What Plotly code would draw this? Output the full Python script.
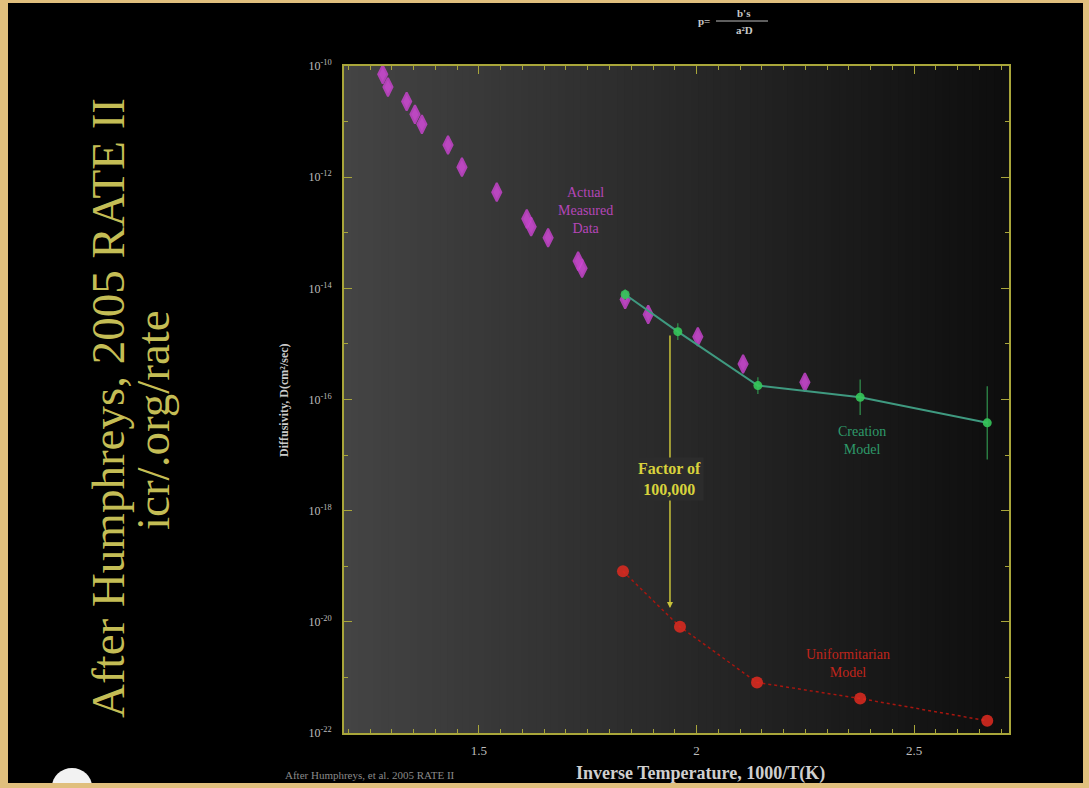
import plotly.graph_objects as go

# ---------------- data ----------------
meas_x = [1.279, 1.291, 1.334, 1.353, 1.369, 1.429, 1.461, 1.541, 1.610, 1.620,
          1.659, 1.728, 1.737, 1.836, 1.889, 2.003, 2.107, 2.249]
meas_logD = [-10.15, -10.38, -10.64, -10.87, -11.05, -11.42, -11.82, -12.27, -12.75, -12.89,
             -13.09, -13.51, -13.64, -14.20, -14.47, -14.87, -15.36, -15.69]

creation_x = [1.836, 1.957, 2.141, 2.376, 2.668]
creation_logD = [-14.11, -14.78, -15.75, -15.96, -16.42]
creation_err_dec = [0.10, 0.15, 0.15, 0.32, 0.66]

unif_x = [1.831, 1.962, 2.139, 2.376, 2.668]
unif_logD = [-19.09, -20.09, -21.09, -21.38, -21.78]

arrow_x = 1.939
arrow_top_logD = -14.82
arrow_bot_logD = -19.75

y_tick_exps = [-22, -20, -18, -16, -14, -12, -10]
y_minor_exps = [-21, -19, -17, -15, -13, -11]
x_tick_vals = [1.5, 2, 2.5]
x_tick_text = ["1.5", "2", "2.5"]

# ---------------- figure ----------------
meas_D = [10 ** v for v in meas_logD]
cre_D = [10 ** v for v in creation_logD]
cre_plus = [10 ** (v + e) - 10 ** v for v, e in zip(creation_logD, creation_err_dec)]
cre_minus = [10 ** v - 10 ** (v - e) for v, e in zip(creation_logD, creation_err_dec)]
uni_D = [10 ** v for v in unif_logD]

fig = go.Figure()

fig.add_trace(go.Scatter(
    x=unif_x, y=uni_D, mode="lines+markers",
    line=dict(color="#a8160f", width=1.5, dash="dot"),
    marker=dict(color="#e02a20", size=12, opacity=0.85),
    showlegend=False))

fig.add_trace(go.Scatter(
    x=meas_x, y=meas_D, mode="markers",
    marker=dict(color="#d24ad8", size=13, opacity=0.85, symbol="diamond-tall",
                line=dict(width=2, color="#c443ca")),
    showlegend=False))

fig.add_trace(go.Scatter(
    x=creation_x, y=cre_D, mode="lines+markers",
    line=dict(color="#3f9a80", width=2),
    marker=dict(color="#35c65a", size=9, opacity=0.9),
    error_y=dict(type="data", symmetric=False, array=cre_plus, arrayminus=cre_minus,
                 color="#2f8a4a", thickness=1.3, width=0),
    showlegend=False))

# gradient background of the plot area
shapes = []
N = 90
for i in range(N):
    t = i / (N - 1)
    c = int(68 - (68 - 14) * t)
    shapes.append(dict(type="rect", xref="x domain", yref="y domain",
                       x0=i / N, x1=(i + 1) / N + 0.002, y0=0, y1=1,
                       fillcolor=f"rgb({c},{c},{c})", line=dict(width=0), layer="below"))

# paper coordinate helpers (plot area: x 344..1009, y 66..733)
L, R, T, B = 344, 1009, 66, 733
def px(xp):
    return (xp - L) / (R - L)
def py(yp):
    return (B - yp) / (B - T)

# small white logo at bottom-left
shapes.append(dict(type="circle", xref="paper", yref="paper",
                   x0=px(52), x1=px(92), y0=py(805), y1=py(768),
                   fillcolor="#f2f2f2", line=dict(width=0), layer="above"))
# tan frame around the slide
tan = "#e0bf7d"
for (a, b, c, d) in [(0, 1089, 0, 3), (0, 1089, 783, 788), (0, 8, 0, 788), (1083, 1089, 0, 788)]:
    shapes.append(dict(type="rect", xref="paper", yref="paper",
                       x0=px(a) - 0.01 if a == 0 else px(a), x1=px(b) + 0.01 if b == 1089 else px(b),
                       y0=py(d) - 0.01 if d == 788 else py(d), y1=py(c) + 0.01 if c == 0 else py(c),
                       fillcolor=tan, line=dict(width=0), layer="above"))
# fraction bar of the formula at the top
shapes.append(dict(type="line", xref="paper", yref="paper",
                   x0=px(716), x1=px(768), y0=py(21), y1=py(21),
                   line=dict(color="#bdbdbd", width=1)))

serif = "Liberation Serif, Times New Roman, serif"
C = dict(xanchor="center", yanchor="middle")
annotations = [
    dict(x=arrow_x, y=arrow_bot_logD, ax=arrow_x, ay=arrow_top_logD,
         xref="x", yref="y", axref="x", ayref="y", text="",
         showarrow=True, arrowhead=2, arrowsize=0.8, arrowwidth=1.5, arrowcolor="#c8c23a"),
    dict(x=arrow_x, y=-17.43, xref="x", yref="y", text="<b>Factor of<br>100,000</b>",
         showarrow=False, font=dict(family=serif, size=16, color="#d8d23c"),
         bgcolor="rgb(44,44,44)", borderpad=2, **C),
    dict(x=1.744, y=-12.6, xref="x", yref="y", text="Actual<br>Measured<br>Data",
         showarrow=False, font=dict(family=serif, size=14, color="#b546b8"), **C),
    dict(x=2.38, y=-16.73, xref="x", yref="y", text="Creation<br>Model",
         showarrow=False, font=dict(family=serif, size=14, color="#2e9a6a"), **C),
    dict(x=2.348, y=-20.75, xref="x", yref="y", text="Uniformitarian<br>Model",
         showarrow=False, font=dict(family=serif, size=14, color="#c0251b"), **C),
    dict(x=px(108), y=py(408), xref="paper", yref="paper",
         text="After Humphreys, 2005 RATE II", textangle=-90,
         showarrow=False, font=dict(family=serif, size=47, color="#c4bd55"), **C),
    dict(x=px(153), y=py(420), xref="paper", yref="paper",
         text="icr/.org/rate", textangle=-90,
         showarrow=False, font=dict(family=serif, size=47, color="#c4bd55"), **C),
    dict(x=px(700), y=py(773), xref="paper", yref="paper",
         text="<b>Inverse Temperature, 1000/T(K)</b>", showarrow=False,
         font=dict(family=serif, size=18, color="#cfcfcf"), **C),
    dict(x=px(370), y=py(775), xref="paper", yref="paper",
         text="After Humphreys, et al. 2005 RATE II", showarrow=False,
         font=dict(family=serif, size=11, color="#8a8a8a"), **C),
    dict(x=px(284), y=py(400), xref="paper", yref="paper",
         text="<b>Diffusivity, D(cm²/sec)</b>", textangle=-90, showarrow=False,
         font=dict(family=serif, size=12, color="#cccccc"), **C),
    dict(x=px(712), y=py(21), xref="paper", yref="paper", text="<b>p=</b>",
         showarrow=False, xanchor="right", yanchor="middle",
         font=dict(family=serif, size=11, color="#c8c8c8")),
    dict(x=px(744), y=py(13), xref="paper", yref="paper", text="<b>b's</b>",
         showarrow=False, font=dict(family=serif, size=11, color="#c8c8c8"), **C),
    dict(x=px(744), y=py(30), xref="paper", yref="paper", text="<b>a²D</b>",
         showarrow=False, font=dict(family=serif, size=11, color="#c8c8c8"), **C),
]

axis_col = "#a9a63a"
fig.update_layout(
    width=1089, height=788,
    margin=dict(l=L, r=1089 - R, t=T, b=788 - B),
    paper_bgcolor="#000000", plot_bgcolor="rgba(0,0,0,0)",
    shapes=shapes, annotations=annotations, showlegend=False,
    xaxis=dict(range=[1.19, 2.718], tickvals=x_tick_vals, ticktext=x_tick_text,
               ticks="inside", ticklen=8, tickwidth=1.2, tickcolor=axis_col,
               showline=True, linecolor=axis_col, linewidth=2, mirror="allticks",
               showgrid=False, zeroline=False, ticklabelstandoff=4,
               tickfont=dict(family=serif, size=13, color="#bdbdbd"),
               minor=dict(dtick=0.05, ticks="inside", ticklen=4, tickcolor=axis_col, showgrid=False)),
    yaxis=dict(type="log", range=[-22, -10],
               tickvals=[10 ** e for e in y_tick_exps],
               ticktext=[f"10<sup>{e}</sup>" for e in y_tick_exps],
               ticks="inside", ticklen=8, tickwidth=1.2, tickcolor=axis_col,
               showline=True, linecolor=axis_col, linewidth=2, mirror="allticks",
               showgrid=False, zeroline=False, ticklabelstandoff=8,
               tickfont=dict(family=serif, size=12, color="#bdbdbd"),
               minor=dict(tickvals=[10 ** e for e in y_minor_exps], ticks="inside",
                          ticklen=4, tickcolor=axis_col, showgrid=False)),
)

fig.write_html("out.html", config={"displayModeBar": False},
               post_script="document.body.style.margin='0px';document.body.style.overflow='hidden';")
